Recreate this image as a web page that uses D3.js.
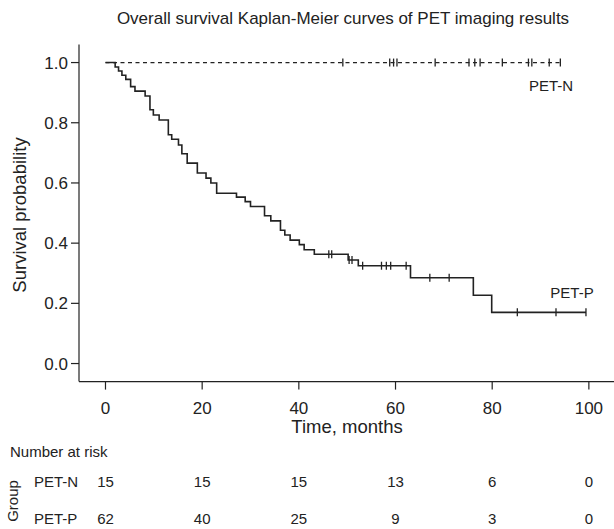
<!DOCTYPE html>
<html>
<head>
<meta charset="utf-8">
<script src="https://cdn.jsdelivr.net/npm/d3@7"></script>
<style>
  body { margin: 0; background: #fff; }
  svg { display: block; }
  svg text { font-family: "Liberation Sans", Arial, Helvetica, sans-serif; fill: #222; }
</style>
</head>
<body>
<div id="container"></div>
<script>
// ---------------------------------------------------------------- //
// Data

var title = 'Overall survival Kaplan-Meier curves of PET imaging results';
var groups = ['PET-N', 'PET-P'];
var xTicks = [0, 20, 40, 60, 80, 100];
var yTicks = [0.0, 0.2, 0.4, 0.6, 0.8, 1.0];

// PET-P: event times (months) and survival right after each event
var pTimes = [2.0, 2.7, 3.4, 4.2, 5.2, 6.1, 8.2, 9.2, 9.9, 11.1, 13.0, 13.7, 15.1, 15.8, 16.9, 19.0, 20.8, 21.8, 23.0,
              27.1, 28.9, 30.0, 32.9, 34.2, 36.2, 37.1, 38.2, 40.1, 41.1, 43.2, 50.2, 52.3, 63.1, 76.1, 79.9];
var pSurv  = [0.985, 0.972, 0.958, 0.944, 0.920, 0.905, 0.889, 0.843, 0.826, 0.809, 0.760, 0.745, 0.726, 0.697, 0.666, 0.633, 0.616, 0.600, 0.566,
              0.553, 0.538, 0.522, 0.491, 0.474, 0.443, 0.427, 0.410, 0.395, 0.378, 0.363, 0.344, 0.325, 0.285, 0.227, 0.170];
var pCensor = [46.2, 46.8, 50.4, 51.0, 53.2, 57.1, 58.1, 59.0, 62.2, 67.1, 71.1, 85.2, 93.2, 99.4];

// PET-N: no events, censored only
var nCensor = [49.1, 58.8, 59.6, 60.3, 68.2, 75.2, 76.4, 77.5, 82.1, 87.5, 88.2, 91.8, 94.1];

var riskN = [15, 15, 15, 13, 6, 0];
var riskP = [62, 40, 25, 9, 3, 0];

// ---------------------------------------------------------------- //
// Canvas

var W = 614, H = 529;
var svg = d3.select('#container').append('svg').attr('width', W).attr('height', H);

var x = d3.scaleLinear().domain([-5.48, 105.2]).range([79, 614]);
var y = d3.scaleLinear().domain([-0.06, 1.06]).range([381.6, 44.5]);

// title
svg.append('text').attr('x', 343).attr('y', 24).attr('text-anchor', 'middle')
  .style('font-size', '17px').text(title);

// axes (L shaped box)
var ax = svg.append('g').attr('stroke', '#222').attr('stroke-width', 1.2).attr('fill', 'none');
ax.append('line').attr('x1', x.range()[0]).attr('x2', x.range()[0]).attr('y1', y.range()[1]).attr('y2', y.range()[0]);
ax.append('line').attr('x1', x.range()[0]).attr('x2', x.range()[1]).attr('y1', y.range()[0]).attr('y2', y.range()[0]);

yTicks.forEach(function(d){
  ax.append('line').attr('x1', x.range()[0] - 8).attr('x2', x.range()[0]).attr('y1', y(d)).attr('y2', y(d));
  svg.append('text').attr('x', 68).attr('y', y(d) + 6).attr('text-anchor', 'end')
    .style('font-size', '17px').text(d.toFixed(1));
});
xTicks.forEach(function(d){
  ax.append('line').attr('x1', x(d)).attr('x2', x(d)).attr('y1', y.range()[0]).attr('y2', y.range()[0] + 8);
  svg.append('text').attr('x', x(d)).attr('y', 414).attr('text-anchor', 'middle')
    .style('font-size', '17px').text(d);
});

svg.append('text').attr('transform', 'translate(26,215) rotate(-90)').attr('text-anchor', 'middle')
  .style('font-size', '18.5px').text('Survival probability');
svg.append('text').attr('x', 347).attr('y', 433).attr('text-anchor', 'middle')
  .style('font-size', '18.5px').text('Time, months');

// ---------------------------------------------------------------- //
// Curves

var line = d3.line().x(function(d){ return x(d.t); }).y(function(d){ return y(d.s); }).curve(d3.curveStepAfter);

var pPts = [{ t: 0, s: 1 }].concat(pTimes.map(function(t, i){ return { t: t, s: pSurv[i] }; }));
pPts.push({ t: d3.max(pCensor), s: pSurv[pSurv.length - 1] });
var nPts = [{ t: 0, s: 1 }, { t: d3.max(nCensor), s: 1 }];

svg.append('path').attr('d', line(nPts)).attr('fill', 'none').attr('stroke', '#222')
  .attr('stroke-width', 1.2).attr('stroke-dasharray', '4,3.5');
svg.append('path').attr('d', line(pPts)).attr('fill', 'none').attr('stroke', '#222').attr('stroke-width', 1.6);

// survival at time t for the step function
function survAt(t){
  var i = d3.bisectRight(pTimes, t);
  return i === 0 ? 1 : pSurv[i - 1];
}

var marks = svg.append('g').attr('stroke', '#222').attr('stroke-width', 1.3);
nCensor.forEach(function(t){
  marks.append('line').attr('x1', x(t)).attr('x2', x(t)).attr('y1', y(1) - 4).attr('y2', y(1) + 4);
});
pCensor.forEach(function(t){
  var s = survAt(t);
  marks.append('line').attr('x1', x(t)).attr('x2', x(t)).attr('y1', y(s) - 4).attr('y2', y(s) + 4);
});

// curve labels
svg.append('text').attr('x', 551).attr('y', 91).attr('text-anchor', 'middle').style('font-size', '15px').text(groups[0]);
svg.append('text').attr('x', 572).attr('y', 298).attr('text-anchor', 'middle').style('font-size', '15px').text(groups[1]);

// ---------------------------------------------------------------- //
// Number at risk table

svg.append('text').attr('x', 10).attr('y', 457).style('font-size', '15px').text('Number at risk');
svg.append('text').attr('transform', 'translate(18,501) rotate(-90)').attr('text-anchor', 'middle')
  .style('font-size', '15px').text('Group');

[riskN, riskP].forEach(function(row, r){
  var yy = r === 0 ? 487 : 524;
  svg.append('text').attr('x', 34).attr('y', yy).style('font-size', '15px').text(groups[r]);
  row.forEach(function(v, i){
    svg.append('text').attr('x', x(xTicks[i])).attr('y', yy).attr('text-anchor', 'middle')
      .style('font-size', '15px').text(v);
  });
});
</script>
</body>
</html>
